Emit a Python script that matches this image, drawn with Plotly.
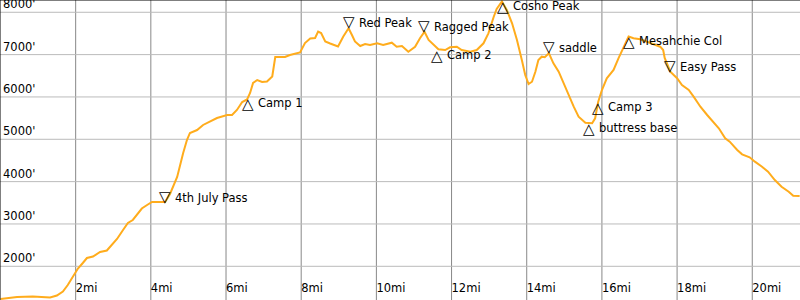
import plotly.graph_objects as go

# distance along route (miles)
miles = [0.00, 0.44, 0.86, 1.32, 1.50, 1.66, 1.79, 1.93, 2.06, 2.19, 2.30, 2.46, 2.65, 2.83, 2.97,
         3.10, 3.26, 3.39, 3.52, 3.63, 3.76, 3.90, 4.03, 4.16, 4.38, 4.51, 4.70, 4.86, 4.96, 5.04,
         5.23, 5.39, 5.57, 5.76, 6.03, 6.16, 6.29, 6.43, 6.56, 6.64, 6.72, 6.83, 6.96, 7.09, 7.23,
         7.31, 7.44, 7.57, 7.70, 7.97, 8.10, 8.24, 8.37, 8.45, 8.53, 8.64, 8.77, 8.98, 9.12, 9.26,
         9.35, 9.43, 9.57, 9.70, 9.83, 10.02, 10.18, 10.41, 10.54, 10.68, 10.85, 11.03, 11.16, 11.28,
         11.39, 11.52, 11.65, 11.83, 11.96, 12.14, 12.27, 12.50, 12.67, 12.85, 12.98, 13.12, 13.20,
         13.34, 13.47, 13.61, 13.74, 13.87, 13.96, 14.05, 14.14, 14.23, 14.31, 14.40, 14.48, 14.59,
         14.71, 14.85, 14.98, 15.11, 15.25, 15.38, 15.56, 15.74, 15.82, 15.90, 16.00, 16.13, 16.31,
         16.44, 16.58, 16.71, 16.84, 17.02, 17.20, 17.38, 17.55, 17.63, 17.67, 17.82, 18.00, 18.13,
         18.31, 18.44, 18.62, 18.80, 18.91, 19.11, 19.28, 19.40, 19.60, 19.73, 19.93, 20.07, 20.26,
         20.42, 20.60, 20.78, 20.97, 21.09, 21.26]

# elevation (feet)
elevation = [1228, 1275, 1287, 1263, 1310, 1405, 1558, 1747, 1948, 2078, 2196, 2231, 2338, 2373, 2503,
             2645, 2857, 3023, 3094, 3212, 3365, 3448, 3519, 3519, 3519, 3708, 4109, 4676, 4983, 5149,
             5219, 5338, 5420, 5503, 5574, 5574, 5692, 5881, 5940, 6093, 6330, 6400, 6353, 6365, 6483,
             6944, 6944, 6944, 6991, 7050, 7274, 7381, 7392, 7546, 7510, 7310, 7262, 7192, 7428, 7622,
             7463, 7310, 7203, 7251, 7227, 7267, 7227, 7281, 7187, 7203, 7069, 7187, 7385, 7541,
             7345, 7227, 7126, 7109, 7173, 7187, 7109, 7069, 7109, 7267, 7503, 7888, 8077,
             8255, 8054, 7740, 7345, 6873, 6518, 6306, 6360, 6596, 6873, 6951, 6937, 7031,
             6795, 6596, 6323, 6046, 5770, 5534, 5392, 5378, 5496, 5881, 6164, 6441, 6637,
             6913, 7187, 7428, 7385, 7362, 7305, 7251, 7187, 7109, 6920, 6596, 6441, 6282,
             6164, 6006, 5770, 5574, 5456, 5260, 5023, 4943, 4747, 4645, 4575, 4471, 4353,
             4234, 4038, 3880, 3762, 3668, 3660]

# waypoints
wp_names = ["4th July Pass", "Camp 1", "Red Peak", "Ragged Peak", "Camp 2", "Cosho Peak",
            "saddle", "buttress base", "Camp 3", "Mesahchie Col", "Easy Pass"]
wp_miles = [4.38, 6.59, 9.26, 11.28, 11.61, 13.36, 14.60, 15.65, 15.90, 16.71, 17.82]
wp_elev = [3500, 5970, 7620, 7540, 7110, 8270, 7030, 5380, 5890, 7440, 6600]
wp_down = [True, False, True, True, False, False, True, False, False, False, True]

x_ticks = [2, 4, 6, 8, 10, 12, 14, 16, 18, 20]
x_labels = [f"{v}mi" for v in x_ticks]
y_ticks = [2000, 3000, 4000, 5000, 6000, 7000, 8000]
y_labels = [f"{v}'" for v in y_ticks]

FONT = "DejaVu Sans"
FS = 11.5

fig = go.Figure()
fig.add_trace(go.Scatter(x=miles, y=elevation, mode="lines",
                         line=dict(color="#FFAC1C", width=2), hoverinfo="skip"))

for name, mx, ey, down in zip(wp_names, wp_miles, wp_elev, wp_down):
    glyph = "\u25BD" if down else "\u25B3"
    fig.add_annotation(x=mx, y=ey, text=glyph, showarrow=False,
                       xanchor="center", yanchor="middle",
                       xshift=0, yshift=(6 if down else -6),
                       font=dict(family=FONT, size=15, color="black"))
    fig.add_annotation(x=mx, y=ey, text=name, showarrow=False,
                       xanchor="left", yanchor="middle",
                       xshift=8, yshift=(5 if down else -5),
                       font=dict(family=FONT, size=FS, color="black"))

# grid lines
grid_shapes = []
for v in x_ticks:
    grid_shapes.append(dict(type="line", xref="x", yref="paper", x0=v, x1=v, y0=0, y1=1,
                            layer="below", line=dict(color="#888888", width=1)))
for v in y_ticks:
    grid_shapes.append(dict(type="line", xref="paper", yref="y", x0=0, x1=1, y0=v, y1=v,
                            layer="below", line=dict(color="#BBBBBB", width=1)))
grid_shapes.append(dict(type="line", xref="paper", yref="paper", x0=0, x1=1, y0=1, y1=1,
                        line=dict(color="black", width=1)))
grid_shapes.append(dict(type="line", xref="paper", yref="paper", x0=0, x1=0, y0=0, y1=1,
                        line=dict(color="black", width=1)))

fig.update_layout(
    template="none",
    width=800, height=300,
    margin=dict(l=0, r=0, t=0, b=0),
    paper_bgcolor="white", plot_bgcolor="white",
    showlegend=False,
    font=dict(family=FONT, size=FS, color="black"),
    xaxis=dict(range=[-0.013, 21.27], tickmode="array", tickvals=x_ticks, ticktext=x_labels,
               ticklabelposition="inside right", showgrid=False,
               zeroline=False, showline=False, ticks="",
               tickfont=dict(family=FONT, size=FS, color="black")),
    yaxis=dict(range=[1204, 8290], tickmode="array", tickvals=y_ticks, ticktext=y_labels,
               ticklabelposition="inside top", ticklabeloverflow="allow", showgrid=False,
               zeroline=False, showline=False,
               ticks="", tickfont=dict(family=FONT, size=FS, color="black")),
    shapes=grid_shapes,
)

fig.write_html("out.html")
